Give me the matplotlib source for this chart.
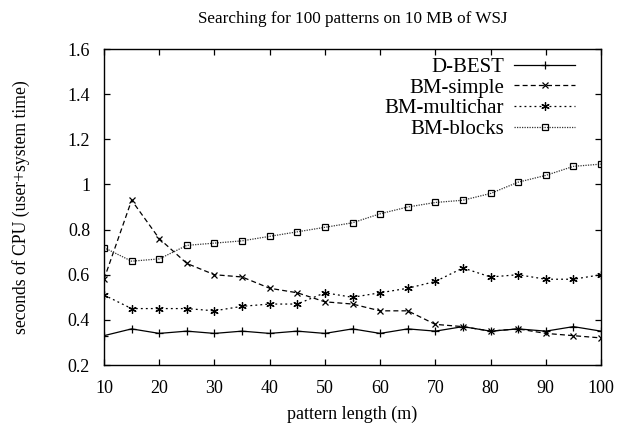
import matplotlib
matplotlib.use("Agg")
import matplotlib.pyplot as plt

x = [10, 15, 20, 25, 30, 35, 40, 45, 50, 55, 60, 65, 70, 75, 80, 85, 90, 95, 100]
dbest = [0.33, 0.36, 0.34, 0.35, 0.34, 0.35, 0.34, 0.35, 0.34, 0.36, 0.34, 0.36, 0.35, 0.37, 0.35, 0.36, 0.35, 0.37, 0.35]
bm_simple = [0.58, 0.93, 0.76, 0.65, 0.60, 0.59, 0.54, 0.52, 0.48, 0.47, 0.44, 0.44, 0.38, 0.37, 0.35, 0.36, 0.34, 0.33, 0.32]
bm_multichar = [0.51, 0.45, 0.45, 0.45, 0.44, 0.46, 0.47, 0.47, 0.52, 0.50, 0.52, 0.54, 0.57, 0.63, 0.59, 0.60, 0.58, 0.58, 0.60]
bm_blocks = [0.72, 0.66, 0.67, 0.73, 0.74, 0.75, 0.77, 0.79, 0.81, 0.83, 0.87, 0.90, 0.92, 0.93, 0.96, 1.01, 1.04, 1.08, 1.09]
xticks = [10, 20, 30, 40, 50, 60, 70, 80, 90, 100]
yticks = [0.2, 0.4, 0.6, 0.8, 1.0, 1.2, 1.4, 1.6]
yticklabels = ["0.2", "0.4", "0.6", "0.8", "1", "1.2", "1.4", "1.6"]

plt.rcParams['font.family'] = ['Liberation Serif', 'DejaVu Serif']
plt.rcParams['font.size'] = 13

fig = plt.figure(figsize=(6.21, 4.33), dpi=100)
ax = fig.add_axes([104/621, 1 - 365/433, (601-104)/621, (365-49)/433])

ax.plot(x, dbest, color='black', lw=0.9, ls='-', marker='+', ms=6, mew=0.9, label='D-BEST')
ax.plot(x, bm_simple, color='black', lw=0.9, ls=(0, (4, 2.5)), marker='x', ms=5, mew=0.9, label='BM-simple')
ax.plot(x, bm_multichar, color='black', lw=0.9, ls=(0, (1.5, 2.5)), marker=(6, 2, 0), ms=6, mew=0.9, label='BM-multichar')
ax.plot(x, bm_blocks, color='#333333', lw=0.9, ls=(0, (1, 1)), marker='s', ms=5, mfc='none', mec='black', mew=0.9, label='BM-blocks')

ax.set_xlim(10, 100)
ax.set_ylim(0.2, 1.6)
ax.set_xticks(xticks)
ax.set_yticks(yticks)
ax.set_yticklabels(yticklabels)
ax.tick_params(direction='in', top=True, right=True, length=4.5, width=0.9, labelsize=13)
ax.tick_params(axis='x', pad=11)
ax.tick_params(axis='y', pad=10)
for s in ax.spines.values():
    s.set_linewidth(1.0)

ax.set_title('Searching for 100 patterns on 10 MB of WSJ', fontsize=12.3, pad=19)
ax.set_xlabel('pattern length (m)', fontsize=13, labelpad=6)
ax.set_ylabel('seconds of CPU (user+system time)', fontsize=12.7, labelpad=27)

leg = ax.legend(loc='upper right', bbox_to_anchor=(0.964, 1.0), frameon=False, markerfirst=False,
                fontsize=15, handlelength=2.9, labelspacing=0.05, borderaxespad=0.0,
                handletextpad=0.5)
leg._legend_box.align = 'right'

fig.savefig('out.png', dpi=100)
